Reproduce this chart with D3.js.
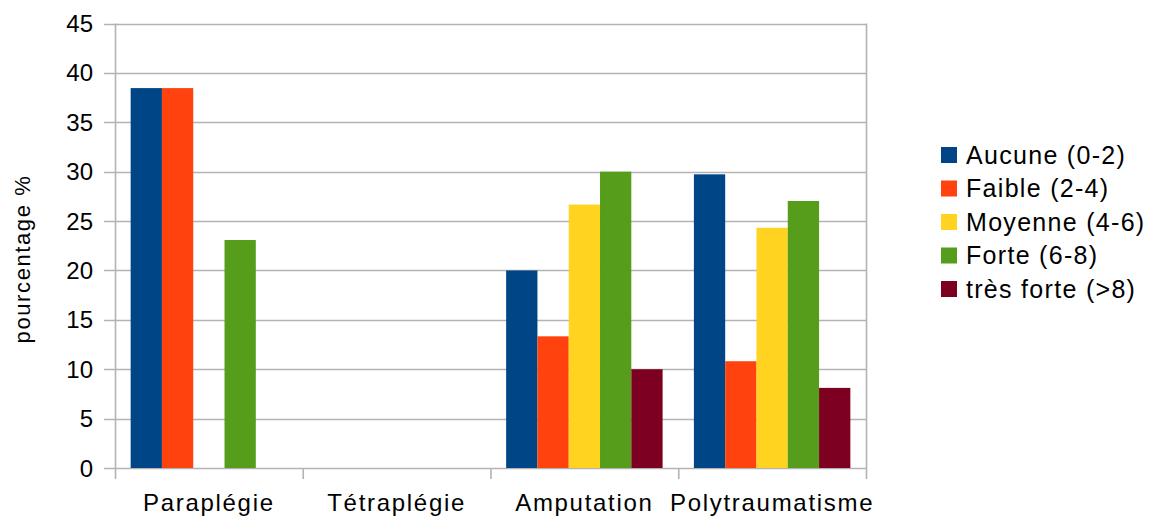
<!DOCTYPE html>
<html>
<head>
<meta charset="utf-8">
<script src="https://cdn.jsdelivr.net/npm/d3@7/dist/d3.min.js"></script>
<style>
  html, body { margin: 0; padding: 0; background: #fff; }
  svg text { font-family: "Liberation Sans", Arial, sans-serif; fill: #000; }
</style>
</head>
<body>
<svg id="chart" width="1154" height="518"></svg>
<script>
// Categories (x axis groups)
const categories = ["Paraplégie", "Tétraplégie", "Amputation", "Polytraumatisme"];
// Series (legend entries) and their colours
const seriesNames = ["Aucune (0-2)", "Faible (2-4)", "Moyenne (4-6)", "Forte (6-8)", "très forte (>8)"];
const seriesColors = ["#004586", "#ff420e", "#ffd320", "#579d1c", "#7e0021"];
// Percentages per series, one value per category
const aucune    = [38.46, 0, 20.0, 29.73];
const faible    = [38.46, 0, 13.33, 10.81];
const moyenne   = [0, 0, 26.67, 24.32];
const forte     = [23.08, 0, 30.0, 27.03];
const tresForte = [0, 0, 10.0, 8.11];
const seriesValues = [aucune, faible, moyenne, forte, tresForte];
// Y axis ticks
const yTicks = [0, 5, 10, 15, 20, 25, 30, 35, 40, 45];
const yTitle = "pourcentage %";

const svg = d3.select("#chart");
const plot = { left: 115, right: 866, top: 23.5, bottom: 468 };
const gridColor = "#b3b3b3";

const x0 = d3.scaleBand().domain(categories).range([plot.left, plot.right]).paddingInner(0).paddingOuter(0);
const x1 = d3.scaleBand().domain(d3.range(seriesNames.length)).range([0, x0.bandwidth()]).paddingInner(0).paddingOuter(0.5);
const y = d3.scaleLinear().domain([0, 45]).range([plot.bottom, plot.top]);

// Horizontal gridlines
svg.append("g").selectAll("line").data(yTicks).join("line")
  .attr("x1", plot.left - 11).attr("x2", plot.right)
  .attr("y1", d => Math.round(y(d)) + 0.5).attr("y2", d => Math.round(y(d)) + 0.5)
  .attr("stroke", gridColor).attr("stroke-width", 1.6);

// Right wall
svg.append("line")
  .attr("x1", plot.right + 0.5).attr("x2", plot.right + 0.5)
  .attr("y1", y(45)).attr("y2", plot.bottom)
  .attr("stroke", gridColor).attr("stroke-width", 1.6);

// Y axis labels
svg.append("g").selectAll("text").data(yTicks).join("text")
  .attr("x", 93).attr("y", d => y(d) + 8.5)
  .attr("text-anchor", "end")
  .attr("font-size", 24)
  .text(d => d);

// Y axis title
svg.append("text")
  .attr("transform", "translate(30,259) rotate(-90)")
  .attr("text-anchor", "middle")
  .attr("font-size", 22)
  .attr("letter-spacing", 1.6)
  .text(yTitle);

// Bars
const groups = svg.append("g").selectAll("g").data(categories).join("g")
  .attr("transform", c => `translate(${x0(c)},0)`);
groups.selectAll("rect")
  .data((c, ci) => seriesValues.map((vals, si) => ({ si, v: vals[ci] })))
  .join("rect")
  .attr("x", d => x1(d.si))
  .attr("width", x1.bandwidth())
  .attr("y", d => y(d.v))
  .attr("height", d => y(0) - y(d.v))
  .attr("fill", d => seriesColors[d.si]);

// Y axis line
svg.append("line")
  .attr("x1", plot.left + 0.5).attr("x2", plot.left + 0.5)
  .attr("y1", plot.top).attr("y2", plot.bottom + 11)
  .attr("stroke", gridColor).attr("stroke-width", 1.6);

// Category tick marks
const catBounds = categories.map(c => x0(c) + x0.bandwidth());
svg.append("g").selectAll("line").data(catBounds).join("line")
  .attr("x1", d => d + 0.5).attr("x2", d => d + 0.5)
  .attr("y1", plot.bottom).attr("y2", plot.bottom + 11)
  .attr("stroke", gridColor).attr("stroke-width", 1.6);

// Category labels
svg.append("g").selectAll("text").data(categories).join("text")
  .attr("x", c => x0(c) + x0.bandwidth() / 2)
  .attr("y", 511)
  .attr("text-anchor", "middle")
  .attr("font-size", 24)
  .attr("letter-spacing", 1.7)
  .text(c => c);

// Legend
const legend = svg.append("g").selectAll("g").data(seriesNames).join("g")
  .attr("transform", (d, i) => `translate(941,${147 + i * 33.5})`);
legend.append("rect")
  .attr("width", 16).attr("height", 16)
  .attr("fill", (d, i) => seriesColors[i]);
legend.append("text")
  .attr("x", 25).attr("y", 16.5)
  .attr("font-size", 25)
  .attr("letter-spacing", 1.3)
  .text(d => d);
</script>
</body>
</html>
